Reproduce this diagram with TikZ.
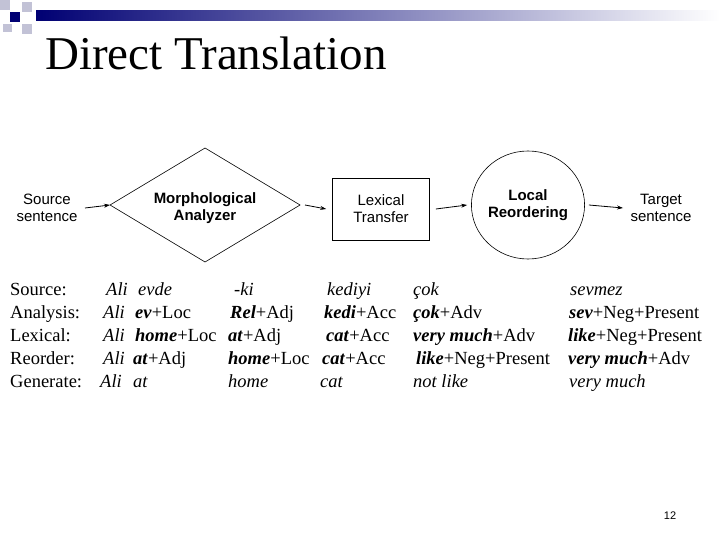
\documentclass[tikz,border=0pt]{standalone}
\usepackage{fontspec}
\setmainfont{Liberation Serif}
\newfontfamily\sansf{Liberation Sans}
\usetikzlibrary{shapes.geometric,arrows.meta}
\begin{document}
\begin{tikzpicture}[x=1pt,y=-1pt,
  flow/.style={font=\sansf\fontsize{15}{17}\selectfont,align=center},
  arr/.style={-{Stealth[length=6pt,width=4pt]},line width=0.8pt},
  row/.style={anchor=base west,font=\fontsize{18.5}{20}\selectfont,inner sep=0pt}]
\useasboundingbox (0,0) rectangle (720,540);
\fill[white] (0,0) rectangle (720,540);
% header decoration
\shade[left color=blue!45!black,right color=white] (36,11) rectangle (720,21);
\fill[blue!20!gray!40] (0,0) rectangle (10,10);
\fill[blue!45!black] (10,12) rectangle (20,22);
\fill[blue!20!gray!40] (22,2) rectangle (32,12);
\fill[blue!20!gray!40] (22,24) rectangle (32,34);
\fill[blue!20!gray!40] (3,24) rectangle (12,32);
\node[anchor=base west,inner sep=0pt,font=\fontsize{47}{50}\selectfont] (title) at (45,70) {Direct Translation};
% flow
\node[flow] (src) at (47,208) {Source\\sentence};
\coordinate (mw) at (110,205);
\coordinate (me) at (300,205);
\draw[line width=0.6pt] (mw) -- (205,148) -- (me) -- (205,262) -- cycle;
\node[flow,font=\sansf\bfseries\fontsize{15}{17}\selectfont] (morph) at (205,208) {Morphological\\Analyzer};
\node[flow,draw,minimum width=97pt,minimum height=62pt,line width=0.6pt] (lex) at (381,209) {Lexical\\Transfer};
\node[flow,font=\sansf\bfseries\fontsize{15}{17}\selectfont,draw,ellipse,minimum width=106pt,minimum height=108pt,inner sep=0pt,line width=0.6pt] (reord) at (528,205) {Local\\Reordering};
\node[flow] (tgt) at (661,208) {Target\\sentence};
\draw[arr] ([xshift=4pt]src.east) -- (mw);
\draw[arr] ([xshift=5pt]me) -- ([xshift=-6pt]lex.west);
\draw[arr] ([xshift=6pt]lex.east) -- ([xshift=-4pt]reord.west);
\draw[arr] ([xshift=4pt]reord.east) -- ([xshift=-4pt]tgt.west);
% rows
\node[row] (l1) at (10,295) {Source:};
\node[row] (l2) at (10,318) {Analysis:};
\node[row] (l3) at (10,341) {Lexical:};
\node[row] (l4) at (10,364) {Reorder:};
\node[row] (l5) at (10,387) {Generate:};
\node[row] (a1) at (106,295) {\itshape Ali};
\node[row] (a2) at (103,318) {\itshape Ali};
\node[row] (a3) at (103,341) {\itshape Ali};
\node[row] (a4) at (103,364) {\itshape Ali};
\node[row] (a5) at (100,387) {\itshape Ali};
\node[row] (b1) at (138,295) {\itshape evde};
\node[row] (b2) at (135,318) {\textbf{\itshape ev}+Loc};
\node[row] (b3) at (135,341) {\textbf{\itshape home}+Loc};
\node[row] (b4) at (133,364) {\textbf{\itshape at}+Adj};
\node[row] (b5) at (133,387) {\itshape at};
\node[row] (c1) at (234,295) {\itshape -ki};
\node[row] (c2) at (230,318) {\textbf{\itshape Rel}+Adj};
\node[row] (c3) at (228,341) {\textbf{\itshape at}+Adj};
\node[row] (c4) at (228,364) {\textbf{\itshape home}+Loc};
\node[row] (c5) at (228,387) {\itshape home};
\node[row] (d1) at (327,295) {\itshape kediyi};
\node[row] (d2) at (324,318) {\textbf{\itshape kedi}+Acc};
\node[row] (d3) at (326,341) {\textbf{\itshape cat}+Acc};
\node[row] (d4) at (322,364) {\textbf{\itshape cat}+Acc};
\node[row] (d5) at (320,387) {\itshape cat};
\node[row] (e1) at (413,295) {\itshape çok};
\node[row] (e2) at (413,318) {\textbf{\itshape çok}+Adv};
\node[row] (e3) at (413,341) {\textbf{\itshape very much}+Adv};
\node[row] (e4) at (416,364) {\textbf{\itshape like}+Neg+Present};
\node[row] (e5) at (413,387) {\itshape not like};
\node[row] (f1) at (570,295) {\itshape sevmez};
\node[row] (f2) at (569,318) {\textbf{\itshape sev}+Neg+Present};
\node[row] (f3) at (568,341) {\textbf{\itshape like}+Neg+Present};
\node[row] (f4) at (568,364) {\textbf{\itshape very much}+Adv};
\node[row] (f5) at (569,387) {\itshape very much};
\node[anchor=base,font=\sansf\fontsize{11}{13}\selectfont,inner sep=0pt] (pg) at (670,519) {12};
\end{tikzpicture}
\end{document}
